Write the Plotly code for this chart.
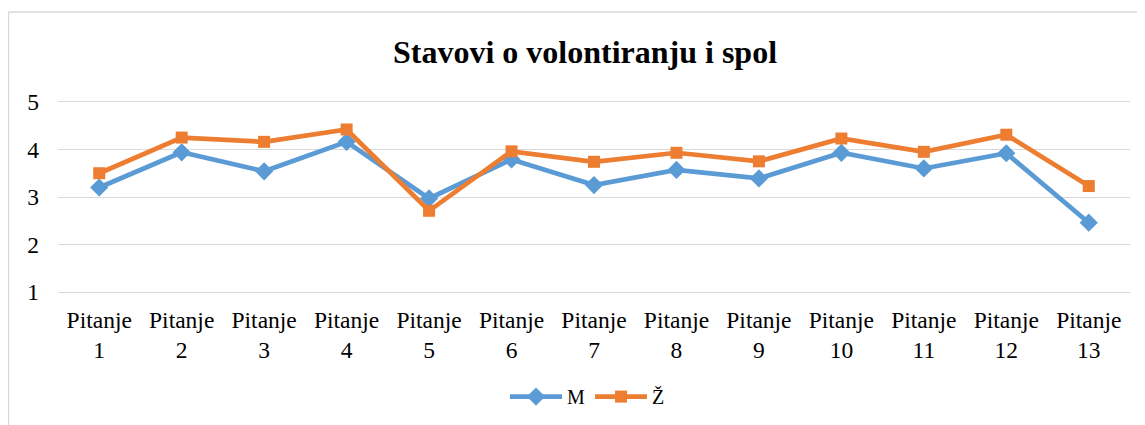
import plotly.graph_objects as go

categories = [f"Pitanje<br>{i}" for i in range(1, 14)]
m_values = [3.20, 3.94, 3.54, 4.16, 2.97, 3.79, 3.25, 3.57, 3.39, 3.93, 3.60, 3.92, 2.46]
z_values = [3.50, 4.25, 4.16, 4.42, 2.71, 3.96, 3.74, 3.93, 3.75, 4.23, 3.95, 4.31, 3.23]
y_ticks = [1, 2, 3, 4, 5]

FONT = "Liberation Serif, Times New Roman, serif"
GRID = "#D9D9D9"

fig = go.Figure()
fig.add_trace(go.Scatter(
    x=categories, y=m_values, name="M", mode="lines+markers",
    line=dict(color="#5B9BD5", width=4.7),
    marker=dict(symbol="diamond", size=14, color="#5B9BD5"),
))
fig.add_trace(go.Scatter(
    x=categories, y=z_values, name="Ž", mode="lines+markers",
    line=dict(color="#ED7D31", width=4.7),
    marker=dict(symbol="square", size=12, color="#ED7D31"),
))

# page body has an 8px margin, so figure coordinates = screen - 8
W, H = 1137, 417
L, R, T, B = 50, 15, 91.8, 130.8
pw = W - L - R
ph = H - T - B

def px(x):
    return (x - L) / pw

def py(y):
    return (H - B - y) / ph

border = dict(color=GRID, width=1.5)
fig.add_shape(type="line", xref="paper", yref="paper",
              x0=px(0.5), x1=px(1160), y0=py(3.5), y1=py(3.5), line=border)
fig.add_shape(type="line", xref="paper", yref="paper",
              x0=px(0.5), x1=px(0.5), y0=py(3.5), y1=py(440), line=border)

fig.update_layout(
    width=W, height=H,
    margin=dict(l=L, r=R, t=T, b=B, autoexpand=False),
    paper_bgcolor="white", plot_bgcolor="white",
    font=dict(family=FONT, size=23, color="#000000"),
    title=dict(text="<b>Stavovi o volontiranju i spol</b>", x=px(577), xanchor="center",
               xref="paper", y=1 - 44 / H, yanchor="middle",
               font=dict(family=FONT, size=32, color="#000000")),
    xaxis=dict(type="category", range=[-0.5, 12.5], showgrid=False, showline=False,
               zeroline=False, ticks="", tickfont=dict(size=23.5), ticklabelstandoff=9,
               automargin=False),
    yaxis=dict(range=[0.96, 5.04], tickvals=y_ticks, showgrid=True, gridcolor=GRID, gridwidth=1.3,
               zeroline=False, showline=False, ticks="", tickfont=dict(size=23.5),
               ticklabelstandoff=18, automargin=False),
    legend=dict(orientation="h", x=px(579.5), xanchor="center", y=py(389), yanchor="middle",
                font=dict(size=20), tracegroupgap=0, itemwidth=52),
    showlegend=True,
)

fig.write_html("out.html")
